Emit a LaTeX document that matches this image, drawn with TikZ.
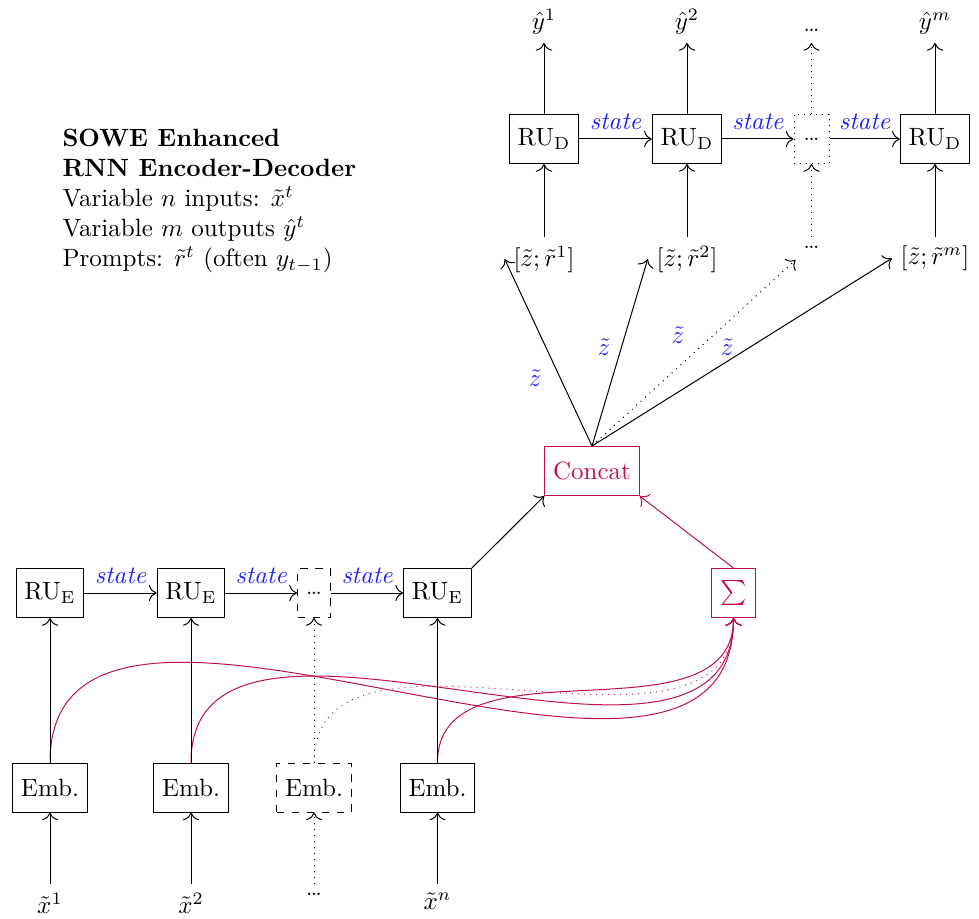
\documentclass[tikz,border=0pt]{standalone}
\usepackage{amsmath}
\usetikzlibrary{arrows.meta}
\definecolor{crim}{RGB}{192,16,72}
\definecolor{stblue}{RGB}{30,30,255}
\newcommand{\dd}{\scalebox{0.6}{\textbf{...}}}
\begin{document}
\begin{tikzpicture}[x=0.4pt,y=-0.4pt,
  box/.style={draw, minimum height=19.6pt},
  cbox/.style={box, draw=crim, text=crim},
  dotsn/.style={inner sep=3.33pt, text depth=1.2pt},
  stlab/.style={midway, above, text=stblue, font=\itshape},
  zlab/.style={text=stblue},
  arr/.style={-{To[scale=1.25]}},
  lab/.style={inner sep=3.33pt}]
\useasboundingbox (0,0) rectangle (979,919);

% legend
\node[anchor=north west, align=left, inner sep=0] (leg) at (62,129)
  {\textbf{SOWE Enhanced}\\ \textbf{RNN Encoder-Decoder}\\ Variable $n$ inputs: $\tilde{x}^t$\\ Variable $m$ outputs $\hat{y}^t$\\ Prompts: $\tilde{r}^t$ (often $y_{t-1}$)};

% decoder row
\node[box] (d1) at (544,139) {RU$_\mathrm{D}$};
\node[box] (d2) at (687,139) {RU$_\mathrm{D}$};
\node[box, dotted, minimum width=14pt] (d3) at (811.5,139) {\dd};
\node[box] (d4) at (935,139) {RU$_\mathrm{D}$};

\node[lab, anchor=south] (y1) at (544,43) {$\hat{y}^1$};
\node[lab, anchor=south] (y2) at (687,43) {$\hat{y}^2$};
\node[dotsn, anchor=south] (y3) at (811.5,43) {\dd};
\node[lab, anchor=south] (y4) at (935,43) {$\hat{y}^m$};

\node[lab, anchor=north] (zr1) at (544,237) {$[\tilde{z};\tilde{r}^1]$};
\node[lab, anchor=north] (zr2) at (687,237) {$[\tilde{z};\tilde{r}^2]$};
\node[dotsn, anchor=north] (zr3) at (811.5,237) {\dd};
\node[lab, anchor=north] (zr4) at (935,237) {$[\tilde{z};\tilde{r}^m]$};

\draw[arr] (d1) -- node[stlab] {state} (d2);
\draw[arr] (d2) -- node[stlab] {state} (d3);
\draw[arr] (d3) -- node[stlab] {state} (d4);

\draw[arr] (d1) -- (y1);
\draw[arr] (d2) -- (y2);
\draw[arr, dotted] (d3) -- (y3);
\draw[arr] (d4) -- (y4);

\draw[arr] (zr1) -- (d1);
\draw[arr] (zr2) -- (d2);
\draw[arr, dotted] (zr3) -- (d3);
\draw[arr] (zr4) -- (d4);

% concat
\node[cbox] (cc) at (592,471) {Concat};
\draw[arr] (cc.north) -- (zr1.west);
\draw[arr] (cc.north) -- (zr2.west);
\draw[arr, dotted] (cc.north) -- (zr3.south west);
\draw[arr] (cc.north) -- (zr4.west);
\node[zlab] (zl1) at (535,378) {$\tilde{z}$};
\node[zlab] (zl2) at (604,347) {$\tilde{z}$};
\node[zlab] (zl3) at (678,335) {$\tilde{z}$};
\node[zlab] (zl4) at (727,347) {$\tilde{z}$};

% encoder row
\node[box] (e1) at (50,593) {RU$_\mathrm{E}$};
\node[box] (e2) at (191,593) {RU$_\mathrm{E}$};
\node[box, dashed, minimum width=13.2pt] (e3) at (314,593) {\dd};
\node[box] (e4) at (437.5,593) {RU$_\mathrm{E}$};

\node[box] (m1) at (50,787.5) {Emb.};
\node[box] (m2) at (191,787.5) {Emb.};
\node[box, dashed] (m3) at (314,787.5) {Emb.};
\node[box] (m4) at (437.5,787.5) {Emb.};

\node[lab, anchor=north] (x1) at (50,884) {$\tilde{x}^1$};
\node[lab, anchor=north] (x2) at (191,884) {$\tilde{x}^2$};
\node[dotsn, anchor=north] (x3) at (314,884) {\dd};
\node[lab, anchor=north] (x4) at (437.5,884) {$\tilde{x}^n$};

\node[cbox] (sum) at (733.5,593) {$\sum$};

\draw[arr] (e1) -- node[stlab] {state} (e2);
\draw[arr] (e2) -- node[stlab] {state} (e3);
\draw[arr] (e3) -- node[stlab] {state} (e4);

\draw[arr] (x1) -- (m1);
\draw[arr] (x2) -- (m2);
\draw[arr, dotted] (x3) -- (m3);
\draw[arr] (x4) -- (m4);

\draw[arr, crim] (m1.north) to[out=90,in=-90] (sum.south);
\draw[arr, crim] (m2.north) to[out=90,in=-90] (sum.south);
\draw[arr, crim, dotted] (m3.north) to[out=90,in=-90] (sum.south);
\draw[arr, crim] (m4.north) to[out=90,in=-90] (sum.south);

\draw[arr] (m1) -- (e1);
\draw[arr] (m2) -- (e2);
\draw[arr, dotted] (m3) -- (e3);
\draw[arr] (m4) -- (e4);

\draw[arr] (e4.north east) -- (cc.south west);
\draw[arr, crim] (sum.north) -- (cc.south east);
\end{tikzpicture}
\end{document}
